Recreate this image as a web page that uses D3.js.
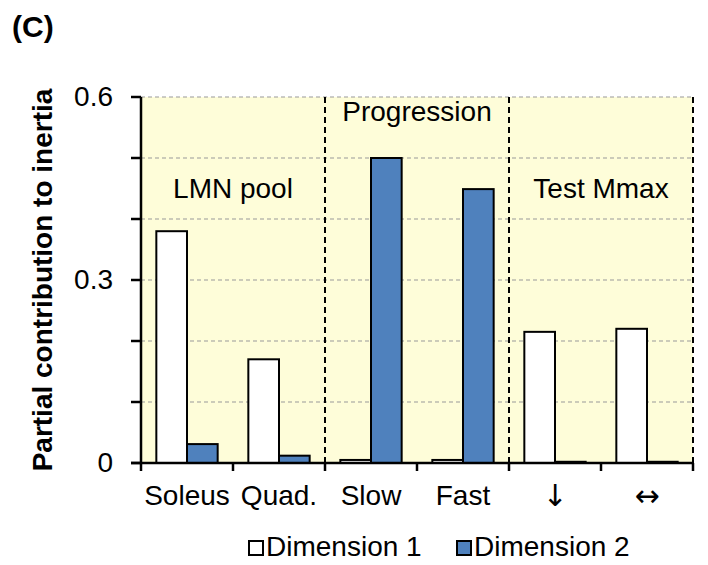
<!DOCTYPE html>
<html>
<head>
<meta charset="utf-8">
<script src="https://cdn.jsdelivr.net/npm/d3@7"></script>
<style>
  body { margin: 0; background: #fff; }
  svg { font-family: "Liberation Sans", Arial, sans-serif; }
</style>
</head>
<body>
<div id="chart"></div>
<script>
const categories = ["Soleus", "Quad.", "Slow", "Fast", "\u2193", "\u2194"];
const dim1 = [0.38, 0.17, 0.005, 0.005, 0.215, 0.22];
const dim2 = [0.031, 0.012, 0.5, 0.449, 0.002, 0.002];
const seriesNames = ["Dimension 1", "Dimension 2"];
const groups = [
  { name: "LMN pool", from: 0, to: 1, labelY: 0.435 },
  { name: "Progression", from: 2, to: 3, labelY: 0.561 },
  { name: "Test Mmax", from: 4, to: 5, labelY: 0.435 }
];
const yTicks = [0, 0.3, 0.6];
const minorTicks = [0, 0.1, 0.2, 0.3, 0.4, 0.5, 0.6];
const gridTicks = [0.1, 0.2, 0.3, 0.4, 0.5, 0.6];

const width = 708, height = 565;
const margin = { top: 97, right: 15, bottom: 102, left: 141 };
const innerW = width - margin.left - margin.right;
const innerH = height - margin.top - margin.bottom;
const FS = 28;

const svg = d3.select("#chart").append("svg")
  .attr("width", width).attr("height", height);

svg.append("text")
  .attr("x", 12).attr("y", 37)
  .attr("font-size", 30).attr("font-weight", "bold")
  .text("(C)");

const g = svg.append("g").attr("transform", `translate(${margin.left},${margin.top})`);

const x = d3.scaleBand().domain(d3.range(categories.length)).range([0, innerW]);
const xs = d3.scaleBand().domain([0, 1]).range([0, x.bandwidth()]).paddingInner(0).paddingOuter(0.5);
const y = d3.scaleLinear().domain([0, 0.6]).range([innerH, 0]);

// plot background
g.append("rect")
  .attr("width", innerW).attr("height", innerH)
  .attr("fill", "#fefdd9");

// gridlines
g.append("g").selectAll("line").data(gridTicks).join("line")
  .attr("x1", 0).attr("x2", innerW)
  .attr("y1", d => y(d)).attr("y2", d => y(d))
  .attr("stroke", "#999").attr("stroke-width", 1)
  .attr("stroke-dasharray", "4,3");

// group separators
const seps = [2, 4, 6];
g.append("g").selectAll("line").data(seps).join("line")
  .attr("x1", d => d === 6 ? innerW : x(d)).attr("x2", d => d === 6 ? innerW : x(d))
  .attr("y1", 0).attr("y2", innerH)
  .attr("stroke", "#000").attr("stroke-width", 2)
  .attr("stroke-dasharray", "6,4");

// bars
const rows = categories.map((c, i) => ({ i, vals: [dim1[i], dim2[i]] }));
const fills = ["#ffffff", "#4f81bd"];
g.append("g").selectAll("g").data(rows).join("g")
  .attr("transform", d => `translate(${x(d.i)},0)`)
  .selectAll("rect").data(d => d.vals.map((v, k) => ({ v, k }))).join("rect")
  .attr("x", d => xs(d.k))
  .attr("width", xs.bandwidth())
  .attr("y", d => y(d.v))
  .attr("height", d => innerH - y(d.v))
  .attr("fill", d => fills[d.k])
  .attr("stroke", "#000").attr("stroke-width", 2);

// group labels
g.append("g").selectAll("text").data(groups).join("text")
  .attr("x", d => (x(d.from) + x(d.to) + x.bandwidth()) / 2)
  .attr("y", d => y(d.labelY))
  .attr("text-anchor", "middle")
  .attr("font-size", FS)
  .text(d => d.name);

// y axis
const yAxis = g.append("g")
  .call(d3.axisLeft(y).tickValues(yTicks).tickFormat(d => d === 0 ? "0" : d3.format(".1f")(d)).tickSize(0).tickPadding(28));
yAxis.select(".domain").attr("stroke-width", 2.5).attr("d", `M0,0V${innerH}`);
yAxis.selectAll(".tick text").attr("font-size", FS).attr("fill", "#000")
  .attr("font-family", "Liberation Sans, Arial, sans-serif");
yAxis.append("g").selectAll("line").data(minorTicks).join("line")
  .attr("x1", -10).attr("x2", 0)
  .attr("y1", d => y(d)).attr("y2", d => y(d))
  .attr("stroke", "#000").attr("stroke-width", 2.5);

// x axis
const xAxis = g.append("g").attr("transform", `translate(0,${innerH})`)
  .call(d3.axisBottom(x).tickFormat(i => categories[i]).tickSize(0).tickPadding(22));
xAxis.select(".domain").attr("stroke-width", 2.5).attr("d", `M-10,0H${innerW}`);
xAxis.selectAll(".tick text").attr("font-size", FS).attr("fill", "#000")
  .attr("font-family", "Liberation Sans, Arial, sans-serif");
// arrows drawn with a plain (non-emoji) glyph font
xAxis.selectAll(".tick text").filter(i => i >= 4)
  .attr("font-family", "DejaVu Sans, sans-serif")
  .attr("font-size", 30)
  .text(i => categories[i] + "\uFE0E");
xAxis.append("g").selectAll("line").data(d3.range(categories.length + 1)).join("line")
  .attr("x1", d => d * x.step()).attr("x2", d => d * x.step())
  .attr("y1", 0).attr("y2", 8)
  .attr("stroke", "#000").attr("stroke-width", 2.5);

// y label
svg.append("text")
  .attr("transform", `translate(52,${margin.top + innerH / 2}) rotate(-90)`)
  .attr("text-anchor", "middle")
  .attr("font-size", FS).attr("font-weight", "bold")
  .text("Partial contribution to inertia");

// legend
const legendX = [249, 457];
const legend = svg.append("g").selectAll("g").data(seriesNames).join("g")
  .attr("transform", (d, k) => `translate(${legendX[k]},556)`);
legend.append("rect")
  .attr("x", 0).attr("y", -15).attr("width", 14).attr("height", 14)
  .attr("fill", (d, k) => fills[k]).attr("stroke", "#000").attr("stroke-width", 2);
legend.append("text")
  .attr("x", 17).attr("y", 0)
  .attr("font-size", FS)
  .text(d => d);
</script>
</body>
</html>
